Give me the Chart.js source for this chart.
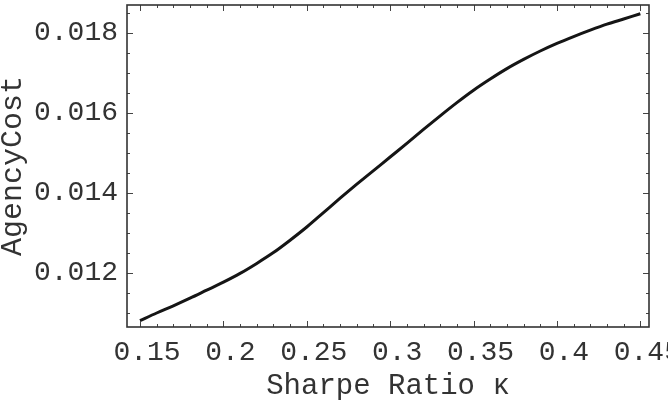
<!DOCTYPE html>
<html>
<head>
<meta charset="utf-8">
<script src="https://cdn.jsdelivr.net/npm/chart.js@4/dist/chart.umd.min.js"></script>
<style>
  html, body { margin: 0; padding: 0; background: #fff; }
  #wrap { width: 668px; height: 407px; position: relative; }
</style>
</head>
<body>
<div id="wrap"><canvas id="c" width="668" height="407"></canvas></div>
<script>
// Data
const sharpeRatio = [0.15,0.16,0.17,0.18,0.19,0.20,0.21,0.22,0.23,0.24,0.25,0.26,0.27,0.28,0.29,0.30,
                     0.31,0.32,0.33,0.34,0.35,0.36,0.37,0.38,0.39,0.40,0.41,0.42,0.43,0.44,0.45];
const agencyCost = [0.01081,0.01100,0.01118,0.01137,0.01157,0.01177,0.01199,0.01224,0.01251,0.01282,
                    0.01315,0.01351,0.01387,0.01422,0.01456,0.01490,0.01524,0.01559,0.01593,0.01626,
                    0.01657,0.01685,0.01711,0.01734,0.01755,0.01774,0.01791,0.01807,0.01822,0.01835,0.01848];
const xTickValues = [0.15,0.2,0.25,0.3,0.35,0.4,0.45];
const xTickLabels = ["0.15","0.2","0.25","0.3","0.35","0.4","0.45"];
const yTickValues = [0.012,0.014,0.016,0.018];
const yTickLabels = ["0.012","0.014","0.016","0.018"];

const points = sharpeRatio.map((x, i) => ({x: x, y: agencyCost[i]}));
const MONO = "'Liberation Mono', 'DejaVu Sans Mono', monospace";
const TXT = '#333333';

const framePlugin = {
  id: 'frameTicks',
  afterDatasetsDraw(chart) {
    const {ctx, scales} = chart;
    const xs = scales.x, ys = scales.y;
    const L = xs.left, R = xs.right, T = ys.top, B = ys.bottom;
    ctx.save();
    ctx.strokeStyle = '#444444';
    ctx.lineWidth = 1;
    // x ticks: minor every 0.01, major every 0.05
    for (let k = 15; k <= 45; k++) {
      const px = Math.round(xs.getPixelForValue(k / 100)) + 0.5;
      const len = (k % 5 === 0) ? 6 : 3;
      ctx.beginPath();
      ctx.moveTo(px, B); ctx.lineTo(px, B - len);
      ctx.moveTo(px, T); ctx.lineTo(px, T + len);
      ctx.stroke();
    }
    // y ticks: minor every 0.0005, major every 0.002
    for (let k = 22; k <= 37; k++) {
      const py = Math.round(ys.getPixelForValue(k / 2000)) + 0.5;
      const len = (k % 4 === 0) ? 6 : 3;
      ctx.beginPath();
      ctx.moveTo(L, py); ctx.lineTo(L + len, py);
      ctx.moveTo(R, py); ctx.lineTo(R - len, py);
      ctx.stroke();
    }
    ctx.lineWidth = 1.6;
    ctx.strokeStyle = '#333333';
    ctx.strokeRect(L, T, R - L, B - T);
    ctx.restore();
  }
};

new Chart(document.getElementById('c'), {
  type: 'line',
  data: {
    datasets: [{
      data: points,
      borderColor: '#151515',
      borderWidth: 3,
      pointRadius: 0,
      cubicInterpolationMode: 'monotone',
      fill: false
    }]
  },
  options: {
    responsive: false,
    animation: false,
    devicePixelRatio: 1,
    layout: { padding: { top: 5, right: 19, left: 0, bottom: 0 } },
    plugins: { legend: { display: false }, tooltip: { enabled: false } },
    scales: {
      x: {
        type: 'linear',
        min: 0.1422,
        max: 0.4552,
        grid: { display: false, drawTicks: false },
        border: { display: false },
        afterBuildTicks: (s) => { s.ticks = xTickValues.map(v => ({value: v})); },
        afterFit: (s) => { s.height = 80; s.paddingLeft = 0; s.paddingRight = 0; },
        ticks: {
          autoSkip: false,
          maxRotation: 0,
          padding: 9,
          labelOffset: 7,
          color: TXT,
          font: { family: MONO, size: 28 },
          callback: (v) => { const i = xTickValues.findIndex(t => Math.abs(t - v) < 1e-9); return i >= 0 ? xTickLabels[i] : ''; }
        },
        title: {
          display: true,
          text: 'Sharpe Ratio κ',
          color: TXT,
          font: { family: MONO, size: 29, lineHeight: 1 },
          padding: { top: 0, bottom: 6 }
        }
      },
      y: {
        type: 'linear',
        min: 0.01065,
        max: 0.0187,
        grid: { display: false, drawTicks: false },
        border: { display: false },
        afterBuildTicks: (s) => { s.ticks = yTickValues.map(v => ({value: v})); },
        afterFit: (s) => { s.width = 127; s.paddingTop = 0; s.paddingBottom = 0; },
        ticks: {
          autoSkip: false,
          padding: 9,
          color: TXT,
          font: { family: MONO, size: 28 },
          callback: (v) => { const i = yTickValues.findIndex(t => Math.abs(t - v) < 1e-9); return i >= 0 ? yTickLabels[i] : ''; }
        },
        title: {
          display: true,
          text: 'AgencyCost',
          color: TXT,
          font: { family: MONO, size: 30, lineHeight: 0.9 },
          padding: { top: 0, bottom: 0 }
        }
      }
    }
  },
  plugins: [framePlugin]
});
</script>
</body>
</html>
